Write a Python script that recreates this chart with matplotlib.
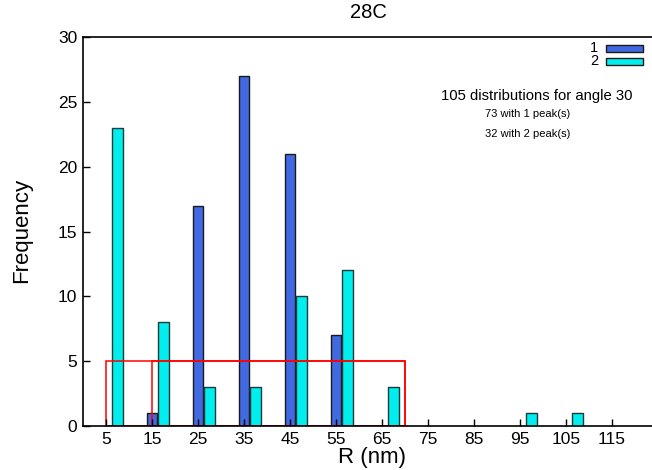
import matplotlib.pyplot as plt
from matplotlib.patches import Rectangle

plt.rcParams['font.family'] = ['Liberation Sans', 'DejaVu Sans']

# data
centers = [5, 15, 25, 35, 45, 55, 65, 75, 85, 95, 105, 115]
peak1 = [0, 1, 17, 27, 21, 7, 0, 0, 0, 0, 0, 0]
peak2 = [23, 8, 3, 3, 10, 12, 3, 0, 0, 1, 1, 0]
boxes = [(5, 70, 5), (15, 70, 5)]   # (x start, x end, height)
xticks = [5, 15, 25, 35, 45, 55, 65, 75, 85, 95, 105, 115]

fig = plt.figure(figsize=(6.52, 4.70), dpi=100)
ax = fig.add_axes([83/652, 1 - 426/470, 575/652, 389/470])

w = 2.2
c1 = '#4169e1'
c2 = '#00eeee'
for x, v in zip(centers, peak1):
    if v > 0:
        ax.bar(x, v, width=w, color=c1, edgecolor='#1a1a1a', linewidth=1.0)
for x, v in zip(centers, peak2):
    if v > 0:
        ax.bar(x + 2.5, v, width=w, color=c2, edgecolor='#1a3a3a', linewidth=1.0)

for x0, x1, h in boxes:
    ax.add_patch(Rectangle((x0, 0), x1 - x0, h, fill=False,
                           edgecolor='red', linewidth=1.1))

ax.set_xlim(0, 125)
ax.set_ylim(0, 30)
ax.set_xticks(xticks)
ax.set_yticks(range(0, 31, 5))
ax.tick_params(direction='in', length=5, width=1, labelsize=12.5, pad=4)
ax.spines['right'].set_visible(False)
for s in ['left', 'bottom', 'top']:
    ax.spines[s].set_linewidth(1.2)

fig.text(372/652, 1 - 458/470, 'R (nm)', ha='center', va='center', fontsize=16)
fig.text(22/652, 1 - 230/470, 'Frequency', ha='center', va='center',
         rotation=90, fontsize=16)
fig.text(368/652, 1 - 13/470, '28C', ha='center', va='center', fontsize=14.5)

# legend
for i, (lbl, c) in enumerate([('1', c1), ('2', c2)]):
    yy = 1 - (48 + 13 * i) / 470
    fig.text(598/652, yy, lbl, ha='right', va='center', fontsize=10.5)
    fig.patches.append(Rectangle((606/652, yy - 3.5/470), 37/652, 7/470,
                                 transform=fig.transFigure, figure=fig,
                                 facecolor=c, edgecolor='#1a1a1a', linewidth=1.0))

fig.text(537/652, 1 - 96/470, '105 distributions for angle 30',
         ha='center', va='center', fontsize=10.7)
fig.text(528/652, 1 - 114/470, '73 with 1 peak(s)',
         ha='center', va='center', fontsize=8)
fig.text(528/652, 1 - 134/470, '32 with 2 peak(s)',
         ha='center', va='center', fontsize=8)

fig.savefig('out.png', dpi=100, facecolor='white')
